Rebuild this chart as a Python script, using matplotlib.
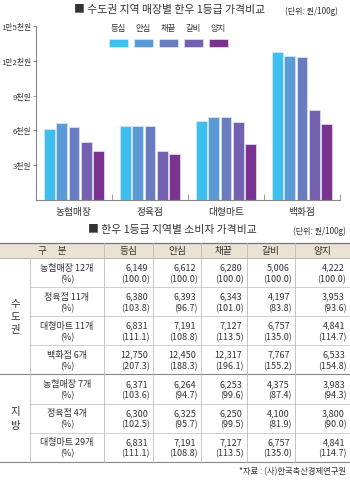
import matplotlib
matplotlib.use('Agg')
import matplotlib.pyplot as plt
from matplotlib.patches import Rectangle
import numpy as np

plt.rcParams['font.family'] = ['Noto Sans CJK KR', 'DejaVu Sans']

# ---------------- data ----------------
categories = ['농협매장', '정육점', '대형마트', '백화점']
series = ['등심', '안심', '채끝', '갈비', '양지']
colors = ['#3EC0EF', '#5A9AD6', '#6A7CC0', '#7462B0', '#7A3490']
ytick_values = [3000, 6000, 9000, 12000, 15000]
ytick_labels = ['3천원', '6천원', '9천원', '1만2천원', '1만5천원']

capital_rows = ['농협매장 12개', '정육점 11개', '대형마트 11개', '백화점 6개']
capital_prices = [[6149, 6612, 6280, 5006, 4222],
                  [6380, 6393, 6343, 4197, 3953],
                  [6831, 7191, 7127, 6757, 4841],
                  [12750, 12450, 12317, 7767, 6533]]
capital_pct = [[100.0, 100.0, 100.0, 100.0, 100.0],
               [103.8, 96.7, 101.0, 83.8, 93.6],
               [111.1, 108.8, 113.5, 135.0, 114.7],
               [207.3, 188.3, 196.1, 155.2, 154.8]]
local_rows = ['농협매장 7개', '정육점 4개', '대형마트 29개']
local_prices = [[6371, 6264, 6253, 4375, 3983],
                [6300, 6325, 6250, 4100, 3800],
                [6831, 7191, 7127, 6757, 4841]]
local_pct = [[103.6, 94.7, 99.6, 87.4, 94.3],
             [102.5, 95.7, 99.5, 81.9, 90.0],
             [111.1, 108.8, 113.5, 135.0, 114.7]]

TXT = '#333333'
W, H = 350, 481
fig = plt.figure(figsize=(W / 100, H / 100), dpi=100)
fig.patch.set_facecolor('white')

# full-figure axes in pixel coordinates for titles, legend, table
tax = fig.add_axes([0, 0, 1, 1])
tax.set_xlim(0, W)
tax.set_ylim(H, 0)
tax.axis('off')

# ---------------- bar chart ----------------
ax = fig.add_axes([36 / W, (H - 201) / H, 304 / W, 174 / H])
ax.set_xlim(-0.5, len(categories) - 0.5)
ax.set_ylim(0, 15000)
x = np.arange(len(categories))
pitch, bw = 0.162, 0.142
for i, (name, col) in enumerate(zip(series, colors)):
    vals = [row[i] for row in capital_prices]
    ax.bar(x + (i - 2) * pitch, vals, width=bw, color=col,
           edgecolor='#dfe6f5', linewidth=0.5, zorder=2)
for s in ['top', 'right']:
    ax.spines[s].set_visible(False)
for s in ['left', 'bottom']:
    ax.spines[s].set_color('#888888')
    ax.spines[s].set_linewidth(0.8)
ax.set_yticks(ytick_values)
ax.set_yticklabels(ytick_labels, fontsize=5.6, color=TXT)
ax.tick_params(axis='y', direction='out', length=2.5, width=0.6, color='#888888', pad=1)
ax.set_xticks(x)
ax.set_xticklabels(categories, fontsize=7, color=TXT)
ax.tick_params(axis='x', which='major', length=0, pad=4)
ax.set_xticks(np.arange(0.5, len(categories)), minor=True)
ax.tick_params(axis='x', which='minor', direction='in', length=4, width=0.6, color='#888888')
ax.set_facecolor('none')

# chart title
tax.text(170, 10, '■ 수도권 지역 매장별 한우 1등급 가격비교', ha='center', va='center',
         fontsize=7.8, color=TXT)
tax.text(338, 11, '(단위: 원/100g)', ha='right', va='center', fontsize=5.8, color=TXT)

# legend
for i, (name, col) in enumerate(zip(series, colors)):
    x0 = 109 + i * 25
    tax.add_patch(Rectangle((x0, 40), 19, 7.5, facecolor=col, edgecolor='#dfe6f5', linewidth=0.5))
    tax.text(x0 + 9.5, 29, name, ha='center', va='center', fontsize=6, color=TXT)

# ---------------- table ----------------
tax.text(172, 230, '■ 한우 1등급 지역별 소비자 가격비교', ha='center', va='center',
         fontsize=7.8, color=TXT)
tax.text(346, 231, '(단위: 원/100g)', ha='right', va='center', fontsize=5.8, color=TXT)

col_edges = [104, 153, 201, 247, 295, 350]
hdr_top, hdr_bot = 244, 259
tax.add_patch(Rectangle((0, hdr_top), W, hdr_bot - hdr_top, facecolor='#EAE2D3',
                        edgecolor='none'))
tax.plot([0, W], [hdr_top, hdr_top], color='#777777', lw=0.9)
tax.plot([0, W], [hdr_bot, hdr_bot], color='#aaaaaa', lw=0.6)
tax.text(52, (hdr_top + hdr_bot) / 2, '구     분', ha='center', va='center', fontsize=7, color=TXT)
for j, name in enumerate(series):
    cx = (col_edges[j] + col_edges[j + 1]) / 2
    tax.text(cx, (hdr_top + hdr_bot) / 2, name, ha='center', va='center', fontsize=7, color=TXT)

row_h = 29.1
y = hdr_bot
blocks = [('수\n도\n권', capital_rows, capital_prices, capital_pct),
          ('지\n방', local_rows, local_prices, local_pct)]
for region, rows, prices, pcts in blocks:
    y_start = y
    for r, label in enumerate(rows):
        y0, y1 = y, y + row_h
        tax.text(67, y0 + 9, label, ha='center', va='center', fontsize=6.5, color=TXT)
        tax.text(67, y0 + 20.5, '(%)', ha='center', va='center', fontsize=6.5, color=TXT)
        for j in range(5):
            xr = col_edges[j + 1] - 5
            tax.text(xr, y0 + 9, f'{prices[r][j]:,}', ha='right', va='center',
                     fontsize=6.5, color=TXT)
            tax.text(xr + 1.5, y0 + 20.5, f'({pcts[r][j]:.1f})', ha='right', va='center',
                     fontsize=6.5, color=TXT)
        if r < len(rows) - 1:
            tax.plot([30, W], [y1, y1], color='#c8c8c8', lw=0.6)
        y = y1
    tax.plot([0, W], [y, y], color='#888888', lw=0.8)
    tax.text(15, (y_start + y) / 2, region, ha='center', va='center', fontsize=7.5,
             color=TXT, linespacing=1.4)
    tax.plot([30, 30], [y_start, y], color='#bbbbbb', lw=0.6)

for xe in col_edges[:-1]:
    tax.plot([xe, xe], [hdr_top, y], color='#bbbbbb', lw=0.6)

tax.text(346, 472, '*자료 : (사)한국축산경제연구원', ha='right', va='center', fontsize=6, color=TXT)

fig.savefig('out.png', dpi=100, facecolor='white')
